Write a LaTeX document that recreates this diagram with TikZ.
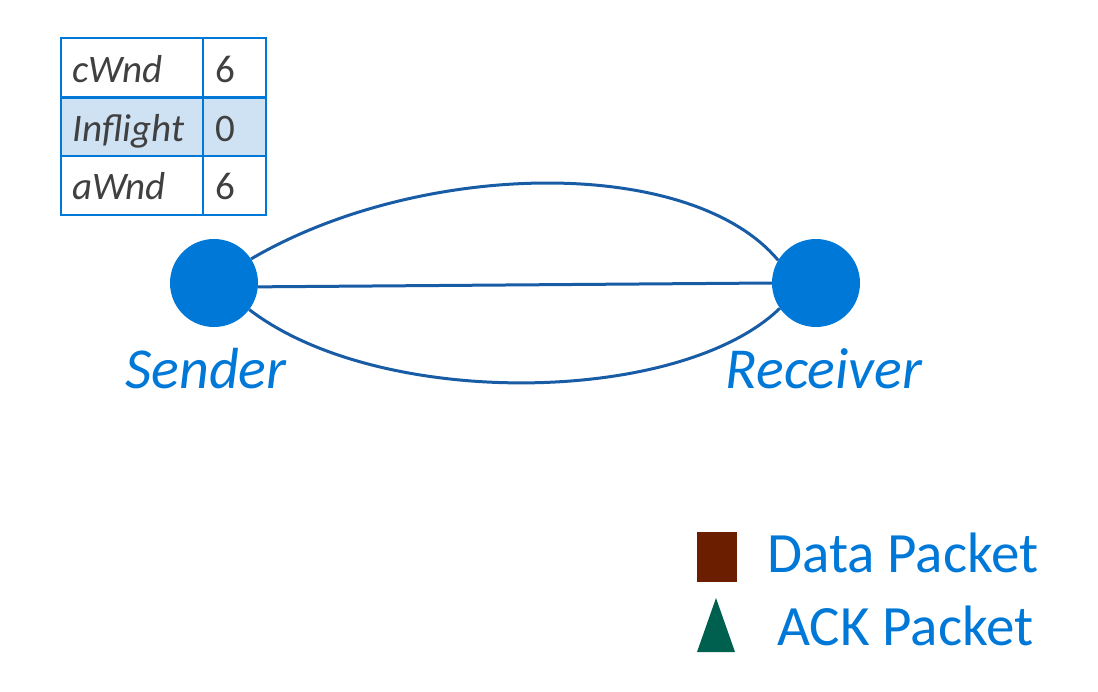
\documentclass[tikz,border=0pt]{standalone}
\usepackage{fontspec}
\setmainfont{Carlito}
\definecolor{nodeblue}{RGB}{0,120,215}
\definecolor{edgeblue}{RGB}{24,92,166}
\definecolor{cellfill}{RGB}{207,226,243}
\definecolor{celltext}{RGB}{64,64,64}
\definecolor{databrown}{RGB}{107,30,0}
\definecolor{ackgreen}{RGB}{0,96,80}
\begin{document}
\begin{tikzpicture}[x=1pt,y=-1pt,
  hostnode/.style={circle,fill=nodeblue,minimum size=88pt,inner sep=0pt},
  hostlabel/.style={text=nodeblue,font=\fontsize{58}{60}\selectfont\itshape,anchor=base,inner sep=0pt},
  link/.style={draw=edgeblue,line width=3pt},
  celltxt/.style={text=celltext,font=\fontsize{39}{41}\selectfont,anchor=base west,inner sep=0pt},
  gridline/.style={draw=nodeblue,line width=1.6pt},
  legendtxt/.style={text=nodeblue,font=\fontsize{57}{60}\selectfont,anchor=base west,inner sep=0pt}]
\useasboundingbox (0,0) rectangle (1098,691);
% table
\fill[cellfill] (61,97) rectangle (266,156);
\draw[gridline] (61,38) rectangle (266,215);
\draw[gridline] (203,38) -- (203,215);
\draw[gridline,line width=3pt] (61,97) -- (266,97);
\draw[gridline] (61,156) -- (266,156);
\node[celltxt] (l1) at (72,82) {\itshape cWnd};
\node[celltxt] (v1) at (215,82) {6};
\node[celltxt] (l2) at (72,141) {\itshape Inflight};
\node[celltxt] (v2) at (215,141) {0};
\node[celltxt] (l3) at (72,199) {\itshape aWnd};
\node[celltxt] (v3) at (215,199) {6};
% hosts
\node[hostnode] (s) at (214,283) {};
\node[hostnode] (r) at (816,283) {};
\node[hostlabel] (sl) at (206,388) {Sender};
\node[hostlabel] (rl) at (824,388) {Receiver};
% links
\draw[link] (s.33) .. controls (420,160) and (690,155) .. (r.149);
\draw[link] (s.-5) -- (r.180);
\draw[link] (s.-37) .. controls (380,410) and (680,405) .. (r.215);
% legend
\fill[databrown] (697,532) rectangle (737,582);
\fill[ackgreen] (697,652) -- (716,598) -- (735,652) -- cycle;
\node[legendtxt] (dl) at (767,572) {Data Packet};
\node[legendtxt] (al) at (777,645) {ACK Packet};
\end{tikzpicture}
\end{document}
